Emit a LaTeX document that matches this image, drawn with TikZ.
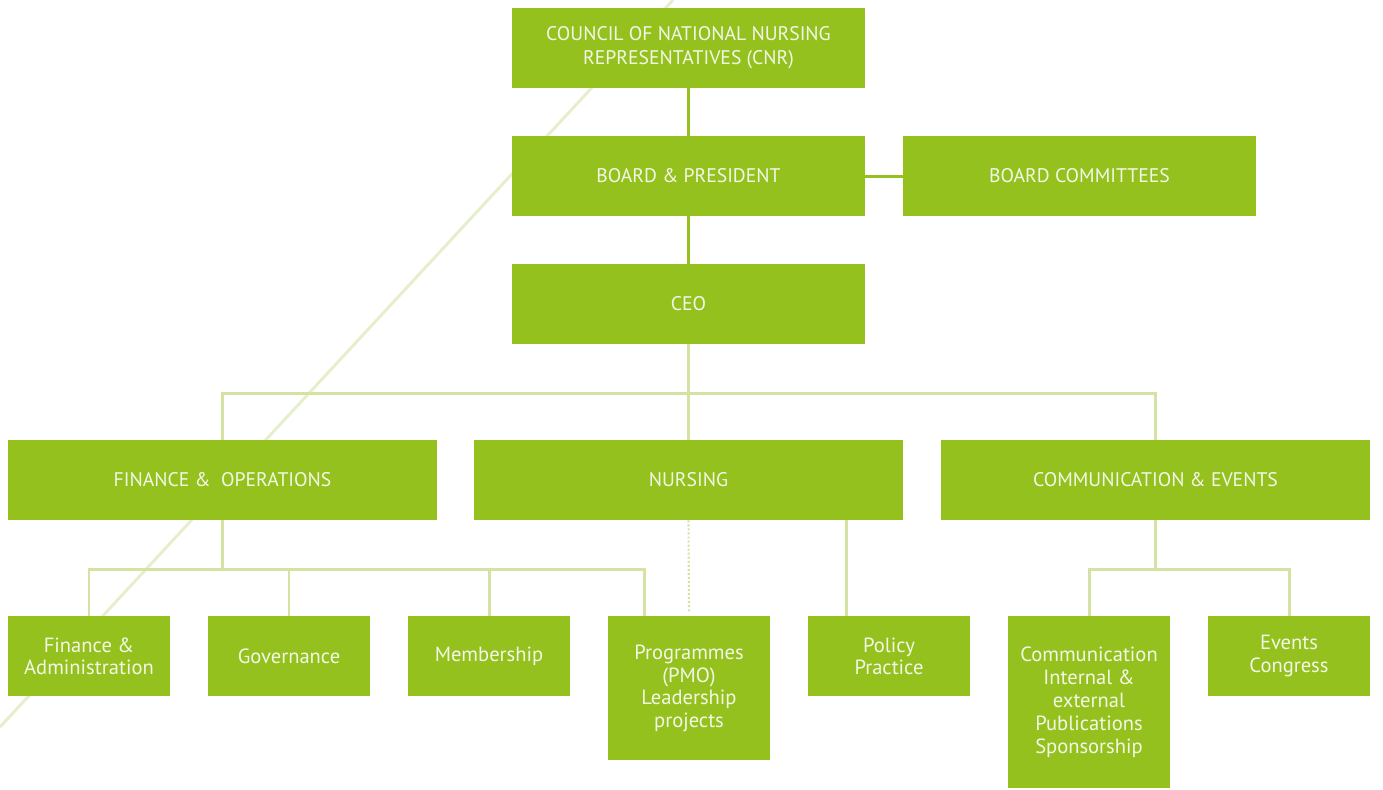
\documentclass[tikz,border=0pt]{standalone}
\usepackage{fontspec}
\setmainfont{PT Sans}
\usepackage{tikz}
\usetikzlibrary{positioning, calc}
\definecolor{boxgreen}{HTML}{95C11F}
\definecolor{linegreen}{HTML}{D3E3A3}
\definecolor{diaggreen}{HTML}{E6EFCC}
\definecolor{boxtext}{HTML}{F3F7E6}

\begin{document}
\begin{tikzpicture}[
    box/.style={fill=boxgreen, text=boxtext, align=center, inner sep=0pt, minimum height=1.6cm},
    wide/.style={box, minimum width=7.06cm, font=\fontsize{11.2}{13.6}\selectfont},
    unit/.style={box, minimum width=8.58cm, font=\fontsize{11.2}{13.6}\selectfont},
    team/.style={box, anchor=north, minimum width=3.24cm, font=\fontsize{11.7}{13}\selectfont},
    dark/.style={draw=boxgreen, line width=1.7pt},
    lite/.style={draw=linegreen, line width=1.7pt}
]
    \useasboundingbox (0,0) rectangle (27.66,-15.78);

    % Background stroke
    \draw[diaggreen, line width=1.7pt] (13.46,0) -- (0,-14.54);

    % Governance boxes
    \node[wide] (cnr) at (13.77,-0.96) {COUNCIL OF NATIONAL NURSING\\REPRESENTATIVES (CNR)};
    \node[wide] (board) at (13.77,-3.52) {BOARD \& PRESIDENT};
    \node[wide] (bcom) at (21.59,-3.52) {BOARD COMMITTEES};
    \node[wide] (ceo) at (13.77,-6.08) {CEO};

    % Units
    \node[unit] (finops) at (4.45,-9.6) {FINANCE \&\ \ OPERATIONS};
    \node[unit] (nursing) at (13.77,-9.6) {NURSING};
    \node[unit] (commev) at (23.11,-9.6) {COMMUNICATION \& EVENTS};

    % Teams
    \node[team] (finadm) at (1.78,-12.32) {Finance \&\\Administration};
    \node[team] (gov) at (5.78,-12.32) {Governance};
    \node[team] (memb) at (9.78,-12.32) {Membership};
    \node[team, minimum height=2.88cm] (prog) at (13.78,-12.32) {Programmes\\(PMO)\\Leadership\\projects};
    \node[team] (policy) at (17.78,-12.32) {Policy\\Practice};
    \node[team, minimum height=3.44cm] (commun) at (21.78,-12.32) {Communication\\Internal \&\\external\\Publications\\Sponsorship};
    \node[team] (events) at (25.78,-12.32) {Events\\Congress};

    % Top links
    \draw[dark] (cnr) -- (board);
    \draw[dark] (board) -- (ceo);
    \draw[dark] (board) -- (bcom);

    % CEO to units
    \coordinate (ceobus) at (13.77,-7.86);
    \draw[lite] (ceo) -- (nursing);
    \draw[lite] (finops.north) |- (ceobus) -| (commev.north);

    % Finance teams
    \coordinate (finbus) at (4.45,-11.38);
    \coordinate (progin) at ([xshift=-0.9cm]prog.north);
    \draw[lite] (finops.south) -- (finbus);
    \draw[lite] (finadm.north) |- (progin |- finbus) -- (progin);
    \draw[lite] (gov.north) -- (gov.north |- finbus);
    \draw[lite] (memb.north) -- (memb.north |- finbus);

    % Nursing teams
    \draw[lite, line width=1.2pt, dash pattern=on 1.1pt off 1.2pt] (nursing.south) -- ([yshift=0.08cm]prog.north);
    \coordinate (polin) at ([xshift=-0.86cm]policy.north);
    \draw[lite] (nursing.south -| polin) -- (polin);

    % Communication teams
    \coordinate (cebus) at (23.11,-11.38);
    \draw[lite] (commev.south) -- (cebus);
    \draw[lite] (commun.north) |- (cebus) -| (events.north);
\end{tikzpicture}
\end{document}
